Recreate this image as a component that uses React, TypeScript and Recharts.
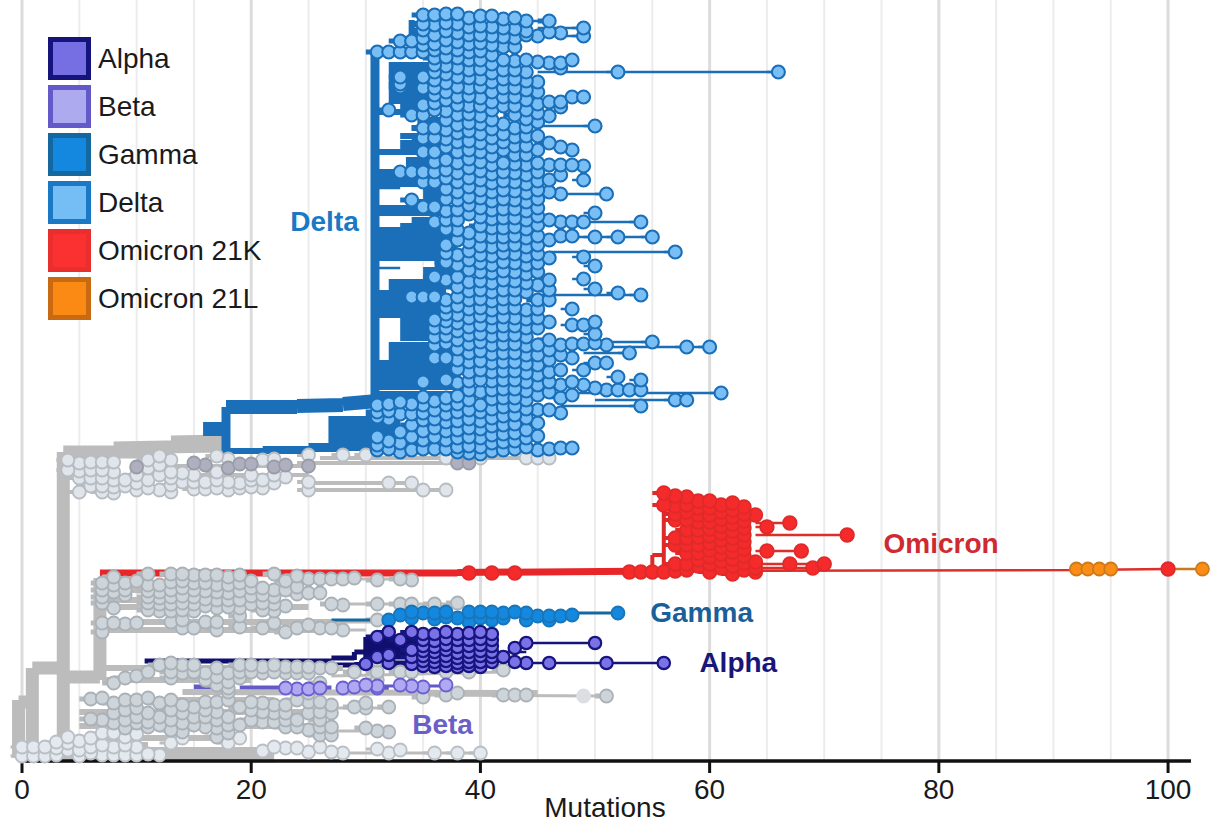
import { CartesianGrid, ComposedChart, Line, ReferenceDot, Scatter, XAxis, YAxis } from 'recharts';

type Column = [number, number[]];
type Branch = [number, number, number, number];

const xTicks = [0, 20, 40, 60, 80, 100];
const minorGrid = [5, 10, 15, 25, 30, 35, 45, 50, 55, 65, 70, 75, 85, 90, 95];
const majorGrid = [0, 20, 40, 60, 80, 100];

const legendNames = ['Alpha', 'Beta', 'Gamma', 'Delta', 'Omicron 21K', 'Omicron 21L'];
const legendFills = ['#766fe3', '#aeaaf0', '#1487de', '#74bdf5', '#fb3030', '#fb8a14'];
const legendEdges = ['#14147c', '#6459c8', '#15689f', '#1a78c4', '#e92e2e', '#c96a12'];

// tips per mutation count: [mutations, tree rows]
const deltaTips: Column[] = [
  [31, [52, 405, 412, 417, 437, 445, 450]],
  [32, [52, 110, 404, 411, 419, 441, 449]],
  [33, [41, 52, 77, 84, 87, 172, 402, 414, 432, 443, 452]],
  [34, [41, 52, 115, 172, 200, 297, 404, 414, 425, 437, 450]],
  [35, [15, 24, 30, 38, 45, 52, 77, 88, 105, 115, 128, 138, 152, 172, 182, 207, 297, 382, 397, 405, 413, 420, 431, 440, 449]],
  [36, [15, 25, 35, 44, 50, 58, 65, 72, 80, 88, 95, 103, 110, 128, 138, 152, 162, 172, 182, 207, 222, 277, 297, 320, 328, 337, 345, 358, 401, 410, 419, 428, 437, 449]],
  [37, [14, 23, 31, 40, 48, 57, 66, 74, 83, 92, 100, 111, 120, 130, 139, 147, 160, 170, 178, 189, 199, 211, 220, 229, 245, 253, 262, 280, 300, 307, 314, 321, 328, 336, 343, 358, 380, 398, 405, 414, 422, 431, 440, 449]],
  [38, [14, 24, 33, 42, 50, 58, 68, 77, 87, 97, 105, 115, 125, 133, 142, 152, 163, 173, 182, 192, 200, 210, 220, 230, 240, 255, 265, 277, 287, 297, 306, 315, 323, 331, 340, 349, 360, 369, 383, 396, 404, 412, 421, 430, 438, 447, 452]],
  [39, [18, 27, 35, 44, 52, 60, 70, 78, 88, 96, 106, 114, 123, 131, 141, 150, 159, 168, 178, 187, 197, 205, 214, 233, 242, 251, 260, 270, 282, 291, 300, 309, 318, 327, 335, 344, 353, 362, 372, 381, 390, 400, 410, 419, 428, 437, 446, 453]],
  [40, [16, 26, 35, 43, 51, 60, 69, 79, 87, 98, 106, 116, 124, 134, 143, 152, 162, 171, 180, 190, 198, 208, 217, 226, 236, 246, 255, 263, 272, 281, 290, 299, 308, 316, 325, 334, 342, 351, 361, 370, 380, 392, 405, 412, 421, 429, 438, 447, 454]],
  [41, [16, 27, 36, 45, 55, 64, 73, 82, 92, 102, 110, 120, 129, 138, 147, 156, 165, 174, 183, 192, 201, 210, 219, 228, 237, 247, 256, 265, 273, 283, 292, 301, 310, 318, 327, 336, 345, 354, 363, 372, 381, 390, 399, 409, 418, 426, 435, 443, 451]],
  [42, [19, 28, 37, 47, 60, 70, 79, 88, 97, 106, 124, 134, 142, 150, 163, 172, 181, 190, 199, 209, 218, 228, 237, 245, 253, 262, 271, 280, 290, 299, 308, 317, 326, 335, 344, 353, 362, 371, 380, 389, 398, 407, 416, 425, 434, 442, 450]],
  [43, [18, 29, 38, 47, 61, 70, 79, 88, 97, 106, 115, 128, 137, 146, 155, 164, 173, 182, 191, 200, 209, 218, 227, 236, 245, 254, 263, 272, 281, 290, 299, 308, 318, 326, 335, 344, 353, 362, 371, 380, 389, 398, 406, 415, 424, 433, 441, 449]],
  [44, [21, 31, 35, 60, 72, 81, 90, 100, 110, 119, 127, 136, 146, 155, 165, 175, 184, 193, 202, 211, 220, 229, 238, 247, 256, 265, 274, 283, 292, 310, 319, 328, 337, 346, 355, 364, 373, 382, 391, 400, 409, 418, 430, 438, 447]],
  [45, [36, 62, 82, 92, 104, 113, 122, 136, 150, 163, 172, 181, 190, 199, 208, 216, 225, 236, 245, 254, 263, 272, 285, 300, 309, 318, 328, 345, 355, 365, 375, 385, 395, 410, 423, 436, 450]],
  [46, [21, 32, 63, 102, 116, 143, 165, 180, 192, 220, 240, 258, 280, 290, 300, 322, 340, 350, 360, 372, 382, 392, 410, 449]],
  [47, [33, 63, 68, 102, 107, 147, 165, 175, 194, 222, 236, 345, 355, 370, 385, 398, 413, 448]],
  [48, [60, 97, 150, 165, 222, 236, 309, 325, 344, 358, 382, 395, 448]],
  [49, [28, 36, 97, 166, 180, 222, 257, 279, 325, 344, 370, 385]],
  [50, [126, 213, 237, 266, 289, 322, 334, 343, 363, 388]],
  [51, [194, 345, 363, 390]],
  [52, [72, 237, 293, 377, 390]],
  [53, [353, 390]],
  [54, [222, 295, 380, 390, 406]],
  [55, [237, 342]],
  [57, [252, 400]],
  [58, [347, 400]],
  [60, [347]],
  [61, [393]],
  [66, [72]],
];

const deltaThick: Branch[] = [
  [15.8, 429, 18, 429], [17.8, 407, 24, 407], [24, 406, 28, 405], [28, 404, 31, 401],
];
const deltaTrunk: Branch[] = [[17.8, 407, 17.8, 455], [30.8, 50, 30.8, 403]];
const deltaMid: Branch[] = [
  [18, 451, 25, 451], [21, 449, 28, 449], [25, 446, 29, 446], [27, 416, 27, 450], [34, 20, 34, 50], [34, 24, 37, 24], [34, 34, 37, 34], [31, 50, 35, 50],
  [27, 419, 33, 419], [27, 425, 33, 425], [27, 431, 33, 431], [27, 437, 34, 437], [27, 443, 36, 443], [27, 448, 36, 448],
  [32, 65, 37, 65], [32, 71, 37, 71], [32, 77, 37, 77], [32, 83, 37, 83], [32, 89, 37, 89], [32, 95, 38, 95], [32, 101, 37, 101], [33, 107, 37, 107],
  [31, 112, 37, 112], [34.5, 120, 37, 120], [34, 128, 37, 128], [33, 136, 37, 136], [33, 143, 37, 143], [33, 148, 37, 148], [31, 152, 37, 152],
  [33.5, 160, 37, 160], [33.5, 166, 37, 166], [31, 172, 37, 172], [31, 178, 37, 178], [31, 184, 37, 184], [35, 190, 37, 190], [35, 196, 37, 196], [34.5, 202, 37, 202],
  [31, 208, 38, 208], [31, 213, 38, 213], [34, 220, 37, 220], [33, 226, 37, 226], [31, 230, 38, 230], [31, 236, 38, 236], [31, 241, 38, 241],
  [31, 247, 38, 247], [31, 253, 38, 253], [31, 258, 38, 258], [36, 264, 38, 264], [35, 270, 38, 270], [35, 276, 38, 276], [32, 282, 37, 282], [32, 288, 37, 288],
  [31, 293, 37, 293], [31, 298, 37, 298], [31, 303, 38, 303], [31, 309, 38, 309], [31, 315, 38, 315], [33, 320, 38, 320], [33, 326, 38, 326], [33, 332, 38, 332],
  [33, 338, 38, 338], [32, 345, 38, 345], [32, 351, 38, 351], [32, 357, 38, 357], [31, 363, 38, 363], [31, 369, 38, 369], [31, 375, 38, 375],
  [31, 381, 38, 381], [31, 387, 38, 387], [31, 394, 39, 394], [31, 400, 36, 400],
];
const deltaThin: Branch[] = [
  [44, 21, 46, 21], [45, 28, 49, 28], [45, 36, 49, 36], [45, 72, 66, 72], [45, 126, 50, 126], [46, 194, 51, 194],
  [44, 222, 54, 222], [45, 237, 55, 237], [46, 252, 57, 252], [45, 295, 54, 295], [48, 342, 55, 342], [50, 347, 60, 347],
  [49, 353, 53, 353], [47, 393, 61, 393], [50, 400, 58, 400], [47, 406, 54, 406], [44, 448, 48, 448], [31, 268, 33, 268], [31, 188, 33, 188],
];

const grayTopTips: Column[] = [
  [4, [460, 470]], [5, [463, 471, 478, 492]], [6, [462, 470, 478, 486]], [7, [462, 470, 478, 486, 492]],
  [8, [462, 472, 480, 487, 493]], [9, [480, 486]], [10, [475, 483, 490]], [11, [460, 468, 480, 488]],
  [12, [456, 465, 475, 490]], [13, [460, 472, 478, 485, 492]], [14, [473, 482]], [15, [475, 482, 489]],
  [16, [482, 489]], [17, [456, 472, 480, 488]], [18, [459, 482, 490]], [19, [483, 488]], [20, [475, 480, 487]],
  [21, [460, 480, 488]], [22, [459, 475, 483]], [23, [477]], [25, [455, 482, 490]], [28, [455]], [30, [455]],
  [32, [483]], [34, [483]], [35, [490]], [37, [490, 458]], [40, [458]], [44, [458]], [45, [458]], [46, [458]],
];
const grayDarkTips: Column[] = [
  [10, [467]], [15, [463]], [16, [465]], [18, [468]], [19, [464]], [20, [464]], [22, [467]], [23, [465]], [25, [466]], [38, [463]], [39, [463]],
];
const grayTopBranches: Branch[] = [
  [34, 483, 25, 483], [37, 490, 25, 490], [46, 458, 26, 458], [39, 463, 24, 463], [25, 466, 10, 466], [25, 475, 9, 475],
];
const grayMidTips: Column[] = [
  [7, [583, 590, 597, 603, 623, 632]], [8, [577, 585, 592, 608, 623]], [9, [583, 590, 595, 624]], [10, [581, 623]],
  [11, [574, 585, 591, 597, 603, 610]], [12, [585, 592, 598, 604, 611]], [13, [574, 582, 590, 597, 604, 611, 622]],
  [14, [574, 581, 588, 596, 603, 610, 620, 628]], [15, [575, 583, 590, 597, 604, 611, 628]], [16, [575, 583, 591, 599, 606, 622]],
  [17, [575, 585, 592, 600, 608, 622, 630]], [18, [577, 585, 593, 600, 607]], [19, [575, 583, 591, 600, 608, 616, 627]],
  [20, [581, 588, 596, 604]], [21, [588, 595, 603, 610, 628]], [22, [574, 590, 597, 604, 611, 623]], [23, [581, 590, 606, 632]],
  [24, [576, 587, 594, 628]], [25, [579, 593, 625]], [26, [579, 593, 628]], [27, [579, 604, 628]], [28, [579, 605, 630]],
  [29, [578]], [31, [580, 604, 620]], [33, [579, 604]], [34, [580, 604]], [36, [604]], [38, [603]],
  [6, [699, 719]], [7, [698, 720]], [8, [683, 703, 713, 723]], [9, [678, 700, 710, 720, 728]], [10, [676, 700, 708, 717, 723]],
  [11, [672, 698, 713, 722, 727]], [12, [665, 703, 717, 725]], [13, [663, 672, 678, 700, 710, 720, 730]],
  [14, [665, 673, 705, 713, 723, 732]], [15, [665, 672, 707, 717, 725]], [16, [673, 680, 702, 710, 717, 727]],
  [17, [668, 677, 685, 702, 712, 720, 728, 737]], [18, [673, 682, 688, 692, 700, 717, 725, 733]], [19, [665, 672, 678, 707, 725]],
  [20, [665, 672, 702, 710, 720]], [21, [667, 673, 703, 712, 722]], [22, [665, 672, 705, 713, 722]],
  [23, [667, 673, 705, 713, 720, 727]], [24, [667, 673, 700, 720, 727]], [25, [667, 673, 693, 702, 713, 730]],
  [26, [668, 683, 702, 712, 720, 727, 735]], [27, [668, 705, 713, 727, 735]], [29, [672, 707]], [30, [703, 708, 728]],
  [31, [672, 680, 660, 731]], [32, [707, 732]], [33, [672]], [34, [672]], [37, [672]], [39, [672]], [42, [670]],
  [35, [697]], [37, [695]], [38, [693]], [42, [695]], [43, [695]], [44, [695]], [51, [696]],
];
const grayPale: Column[] = [[49, [696]]];
const grayLowTips: Column[] = [
  [0, [747, 756]], [1, [747, 756]], [2, [747, 756]], [3, [742, 748, 755]], [4, [737, 743, 750]], [5, [741, 750, 756]], [6, [738, 747, 753]],
  [7, [733, 745, 755]], [8, [733, 747, 755]], [9, [737, 745, 755]], [10, [734, 747, 755]], [11, [754]], [12, [755]], [13, [743]], [14, [738]],
  [18, [743]], [19, [738]], [21, [751]], [22, [747]], [23, [748]], [24, [748]], [25, [752]], [26, [747]], [27, [752]], [28, [753]],
  [31, [749]], [32, [753]], [33, [750]], [36, [753]], [38, [753]], [40, [753]],
];
const grayThick: Branch[] = [
  [3.6, 452, 3.6, 760], [3.6, 452, 13, 452], [8, 448, 17, 446], [13, 442, 17.7, 441], [17.5, 440, 17.5, 456],
  [-0.3, 700, -0.3, 758], [-0.3, 702, 1, 702], [0.9, 668, 0.9, 752], [0.9, 668, 3.6, 668], [3.6, 677, 6.8, 677],
  [6.8, 578, 6.8, 680], [-0.3, 756, 22, 756],
];
const grayMid: Branch[] = [
  [7, 600, 11, 600], [8, 607, 25, 607], [7, 622, 28, 622], [7, 630, 26, 630], [7, 590, 25, 590], [7, 668, 28, 668], [7, 680, 20, 680],
  [14, 692, 45, 693], [6, 700, 22, 700], [5, 712, 27, 712], [5, 726, 27, 726], [4, 738, 18, 738], [4, 745, 11, 745], [11, 750, 21, 750],
];
const grayThin: Branch[] = [
  [28, 579, 34, 579], [27, 604, 38, 604], [28, 630, 30, 630], [27, 676, 42, 672], [35, 695, 51, 696], [27, 708, 32, 708],
  [27, 731, 32, 731], [28, 753, 40, 753], [26, 622, 31, 622],
];

const gammaTips: Column[] = [
  [32, [620]], [33, [615]], [34, [612, 618]], [35, [613]], [36, [613, 619]], [37, [612, 617]], [38, [618]], [39, [612, 622]],
  [40, [612, 618]], [41, [612, 620]], [42, [613, 618]], [43, [612]], [44, [613, 620]], [45, [616]], [46, [616, 620]], [47, [616]], [48, [615]], [52, [613]],
];
const gammaBranches: Branch[] = [[27, 620, 32, 620], [33, 616, 48, 616], [48, 613, 52, 613]];

const alphaTips: Column[] = [
  [30, [664]], [31, [637, 657]], [32, [632, 655, 663]], [33, [640]], [34, [632, 650, 657, 664]],
  [35, [634, 640, 646, 651, 656, 661, 666]], [36, [634, 641, 647, 652, 657, 662, 667]], [37, [632, 639, 645, 650, 656, 661, 666]],
  [38, [634, 640, 647, 653, 658, 663, 667]], [39, [633, 640, 646, 652, 657, 662, 666]], [40, [632, 639, 645, 651, 656, 662, 667]],
  [41, [634, 640, 646, 652, 657, 662]], [42, [657]], [43, [648, 662]], [44, [643, 663]], [46, [663]], [50, [643]], [51, [663]], [56, [663]],
];
const alphaThick: Branch[] = [
  [10.7, 661, 27, 661], [27, 658, 29, 658], [29, 652, 30, 652], [29, 652, 29, 660], [30, 647, 36, 647], [30, 637, 36, 637],
  [30, 642, 36, 642], [30, 657, 36, 657], [30, 652, 36, 652], [31, 663, 36, 663], [30, 637, 30, 663], [26, 665, 41, 665],
];
const alphaThin: Branch[] = [[43, 643, 50, 643], [43, 663, 56, 663], [40, 652, 44, 652]];

const betaTips: Column[] = [
  [23, [688]], [24, [689]], [25, [689]], [26, [688]], [28, [688]], [29, [687]], [30, [685]], [31, [686, 688]], [33, [685]], [34, [686]], [35, [687]], [37, [685]],
];
const betaThick: Branch[] = [[15, 687, 18, 687], [19, 688, 27, 688], [28, 689, 32, 689]];
const betaThin: Branch[] = [[31, 686, 37, 686]];

const omicronTips: Column[] = [
  [39, [573]], [41, [573]], [43, [573]], [53, [572]], [54, [572]], [55, [572]],
  [56, [493, 505, 572]], [57, [496, 506, 514, 520, 538, 545, 564, 571]], [58, [497, 505, 512, 520, 530, 538, 545, 553, 564, 570]],
  [59, [501, 508, 515, 522, 530, 537, 545, 553, 560, 566]], [60, [501, 508, 515, 522, 529, 536, 543, 550, 557, 564, 572]],
  [61, [505, 512, 519, 526, 533, 540, 547, 554, 561, 568]], [62, [503, 510, 517, 524, 531, 538, 545, 552, 559, 566, 574]],
  [63, [507, 514, 521, 528, 535, 542, 549, 556, 563, 570]], [64, [515, 562, 568, 572]], [65, [527, 551]], [67, [523, 564]],
  [68, [551]], [69, [568]], [70, [564]], [72, [535]], [100, [569]],
];
const omicronLTips: Column[] = [[92, [569]], [93, [569]], [94, [569]], [95, [569]], [103, [569]]];
const omicronThick: Branch[] = [[6.8, 573, 38, 573], [38, 572.5, 56, 571]];
const omicronMid: Branch[] = [[56, 498, 56, 572], [55, 572, 55, 555], [55, 555, 56, 555], [57, 515, 61, 515], [57, 540, 61, 540], [58, 525, 62, 525]];
const omicronThin: Branch[] = [
  [56, 571, 92, 570], [92, 570, 100, 569], [64, 523, 67, 523], [64, 527, 65, 527], [64, 535, 72, 535], [64, 551, 68, 551], [64, 564, 70, 564], [64, 568, 69, 568],
];
const omicronOrange: Branch[] = [[100, 569, 103, 569]];
const axisBaseline: Branch[] = [[-0.1, 761, 102, 761]];

const cladeLabels = ['Delta', 'Omicron', 'Gamma', 'Alpha', 'Beta'];
const cladeLabelX = [26.4, 80.2, 59.3, 62.5, 36.7];
const cladeLabelY = [221, 543, 612, 662, 724];
const cladeLabelColors = ['#1b79c4', '#cf2a32', '#1a5f99', '#17167a', '#6a5fc9'];

const toPoints = (cols: Column[]) =>
  cols
    .flatMap(([x, rows]) => rows.map((y) => ({ x, y })))
    .sort((a, b) => b.y - a.y);

const toSegments = (list: Branch[]) =>
  list.flatMap(([x0, y0, x1, y1]) => [{ x: x0, y: y0 }, { x: x1, y: y1 }, { x: null, y: null }]);

// every tip hangs off a short stem from the mutation before it
const toStems = (cols: Column[]): Branch[] =>
  cols.flatMap(([x, rows]) => rows.map((y): Branch => [x - 1, y, x, y]));

const branchLine = (key: string, list: Branch[], color: string, width: number) => (
  <Line
    key={key}
    data={toSegments(list)}
    dataKey="y"
    stroke={color}
    strokeWidth={width}
    dot={false}
    activeDot={false}
    legendType="none"
    isAnimationActive={false}
    connectNulls={false}
    strokeLinejoin="miter"
  />
);

const tipDots = (key: string, cols: Column[], fill: string, edge: string, r = 6.5, sw = 1.8) => (
  <Scatter
    key={key}
    data={toPoints(cols)}
    dataKey="y"
    isAnimationActive={false}
    legendType="none"
    shape={(p: any) => <circle cx={p.cx} cy={p.cy} r={r} fill={fill} stroke={edge} strokeWidth={sw} />}
  />
);

const fontFamily = 'Arial, "Liberation Sans", sans-serif';

const App = () => (
  <div style={{ position: 'absolute', left: 0, top: 0, width: 1210, height: 821, background: '#fff', fontFamily }}>
    <ComposedChart width={1210} height={821} margin={{ top: 0, right: 0, bottom: 0, left: 10.54 }} data={[]}>
      <CartesianGrid horizontal={false} verticalValues={minorGrid} stroke="#ececec" strokeWidth={2} />
      <CartesianGrid horizontal={false} verticalValues={majorGrid} stroke="#dcdcdc" strokeWidth={3} />
      <XAxis
        type="number"
        dataKey="x"
        domain={[-1, 103.66]}
        ticks={xTicks}
        interval={0}
        height={60}
        axisLine={false}
        tickLine={{ stroke: '#111', strokeWidth: 3 }}
        tickSize={12}
        tick={{ fill: '#1a1a1a', fontSize: 28, fontFamily }}
        tickMargin={6}
      />
      <YAxis type="number" dataKey="y" domain={[0, 761]} reversed hide />

      {branchLine('om-thick', omicronThick, '#e8262a', 7)}
      {branchLine('al-thick', alphaThick, '#100f6e', 5)}
      {branchLine('be-thick', betaThick, '#6459c8', 5)}
      {branchLine('gr-thick', grayThick, '#bcbcbc', 13)}
      {branchLine('gr-mid', grayMid, '#bcbcbc', 6)}
      {branchLine('gr-thin', grayThin, '#bcbcbc', 3)}
      {branchLine('gr-top', grayTopBranches, '#bcbcbc', 4)}
      {branchLine('gr-stems-a', toStems(grayTopTips), '#bcbcbc', 4)}
      {branchLine('gr-stems-b', toStems(grayMidTips), '#b6babd', 5)}
      {branchLine('gr-stems-c', toStems(grayLowTips), '#bcbcbc', 3)}
      {branchLine('be-thin', betaThin, '#6459c8', 3)}
      {branchLine('ga', gammaBranches, '#15689f', 3)}
      {branchLine('al-thin', alphaThin, '#14147c', 2.5)}
      {branchLine('al-stems', toStems(alphaTips.filter(([x]) => x < 43)), '#14147c', 4)}
      {branchLine('de-thick', deltaThick, '#1a6fb8', 14)}
      {branchLine('de-trunk', deltaTrunk, '#1a6fb8', 9)}
      {branchLine('de-mid', deltaMid, '#1a6fb8', 6)}
      {branchLine('de-thin', deltaThin, '#1a6fb8', 2.5)}
      {branchLine('de-stems', toStems(deltaTips.filter(([x]) => x <= 46)), '#1a6fb8', 5)}
      {branchLine('de-stems-out', toStems(deltaTips.filter(([x]) => x > 46)), '#1a6fb8', 2.5)}
      {branchLine('om-mid', omicronMid, '#dc2a2a', 4)}
      {branchLine('om-thin', omicronThin, '#dc2f2a', 2.5)}
      {branchLine('om-orange', omicronOrange, '#c97a20', 2.5)}
      {branchLine('om-stems', toStems(omicronTips.filter(([x]) => x > 55 && x < 65)), '#e02a2a', 4)}
      {branchLine('axis', axisBaseline, '#111', 3.5)}

      {tipDots('gray-low', grayLowTips, '#e3e9ee', '#b9bfc4')}
      {tipDots('gray-mid', grayMidTips, '#ced5da', '#aab1b7')}
      {tipDots('gray-top', grayTopTips, '#dfe5ea', '#b6bcc1')}
      {tipDots('gray-dark', grayDarkTips, '#aeb0bf', '#9a9ca8')}
      {tipDots('gray-pale', grayPale, '#dcdfe1', '#dcdfe1')}
      {tipDots('beta', betaTips, '#b0a9f2', '#6a5fd0')}
      {tipDots('gamma', gammaTips, '#1488de', '#1775ba')}
      {tipDots('alpha', alphaTips, '#7a72e6', '#17157f', 6.2, 2.2)}
      {tipDots('delta', deltaTips, '#79bef5', '#1a6fb8', 6.5, 2.1)}
      {tipDots('omicron', omicronTips, '#f52a2a', '#df2a2a', 6.8)}
      {tipDots('omicron-l', omicronLTips, '#fb8c16', '#cf7a18')}

      {cladeLabels.map((name, i) => (
        <ReferenceDot
          key={name}
          x={cladeLabelX[i]}
          y={cladeLabelY[i]}
          r={0}
          fill="none"
          stroke="none"
          label={{ value: name, position: 'center', fill: cladeLabelColors[i], fontSize: 28, fontWeight: 700, fontFamily }}
        />
      ))}
    </ComposedChart>

    <div style={{ position: 'absolute', left: 605, top: 794, transform: 'translateX(-50%)', fontSize: 28, lineHeight: '27px', color: '#1a1a1a' }}>Mutations</div>

    <div style={{ position: 'absolute', left: 48, top: 37 }}>
      {legendNames.map((name, i) => (
        <div key={name} style={{ display: 'flex', alignItems: 'center', height: 43, marginBottom: 5 }}>
          <div style={{ width: 43, height: 43, boxSizing: 'border-box', background: legendFills[i], border: `5px solid ${legendEdges[i]}` }} />
          <span style={{ marginLeft: 7, fontSize: 28, color: '#1a1a1a' }}>{name}</span>
        </div>
      ))}
    </div>
  </div>
);

export default App;
